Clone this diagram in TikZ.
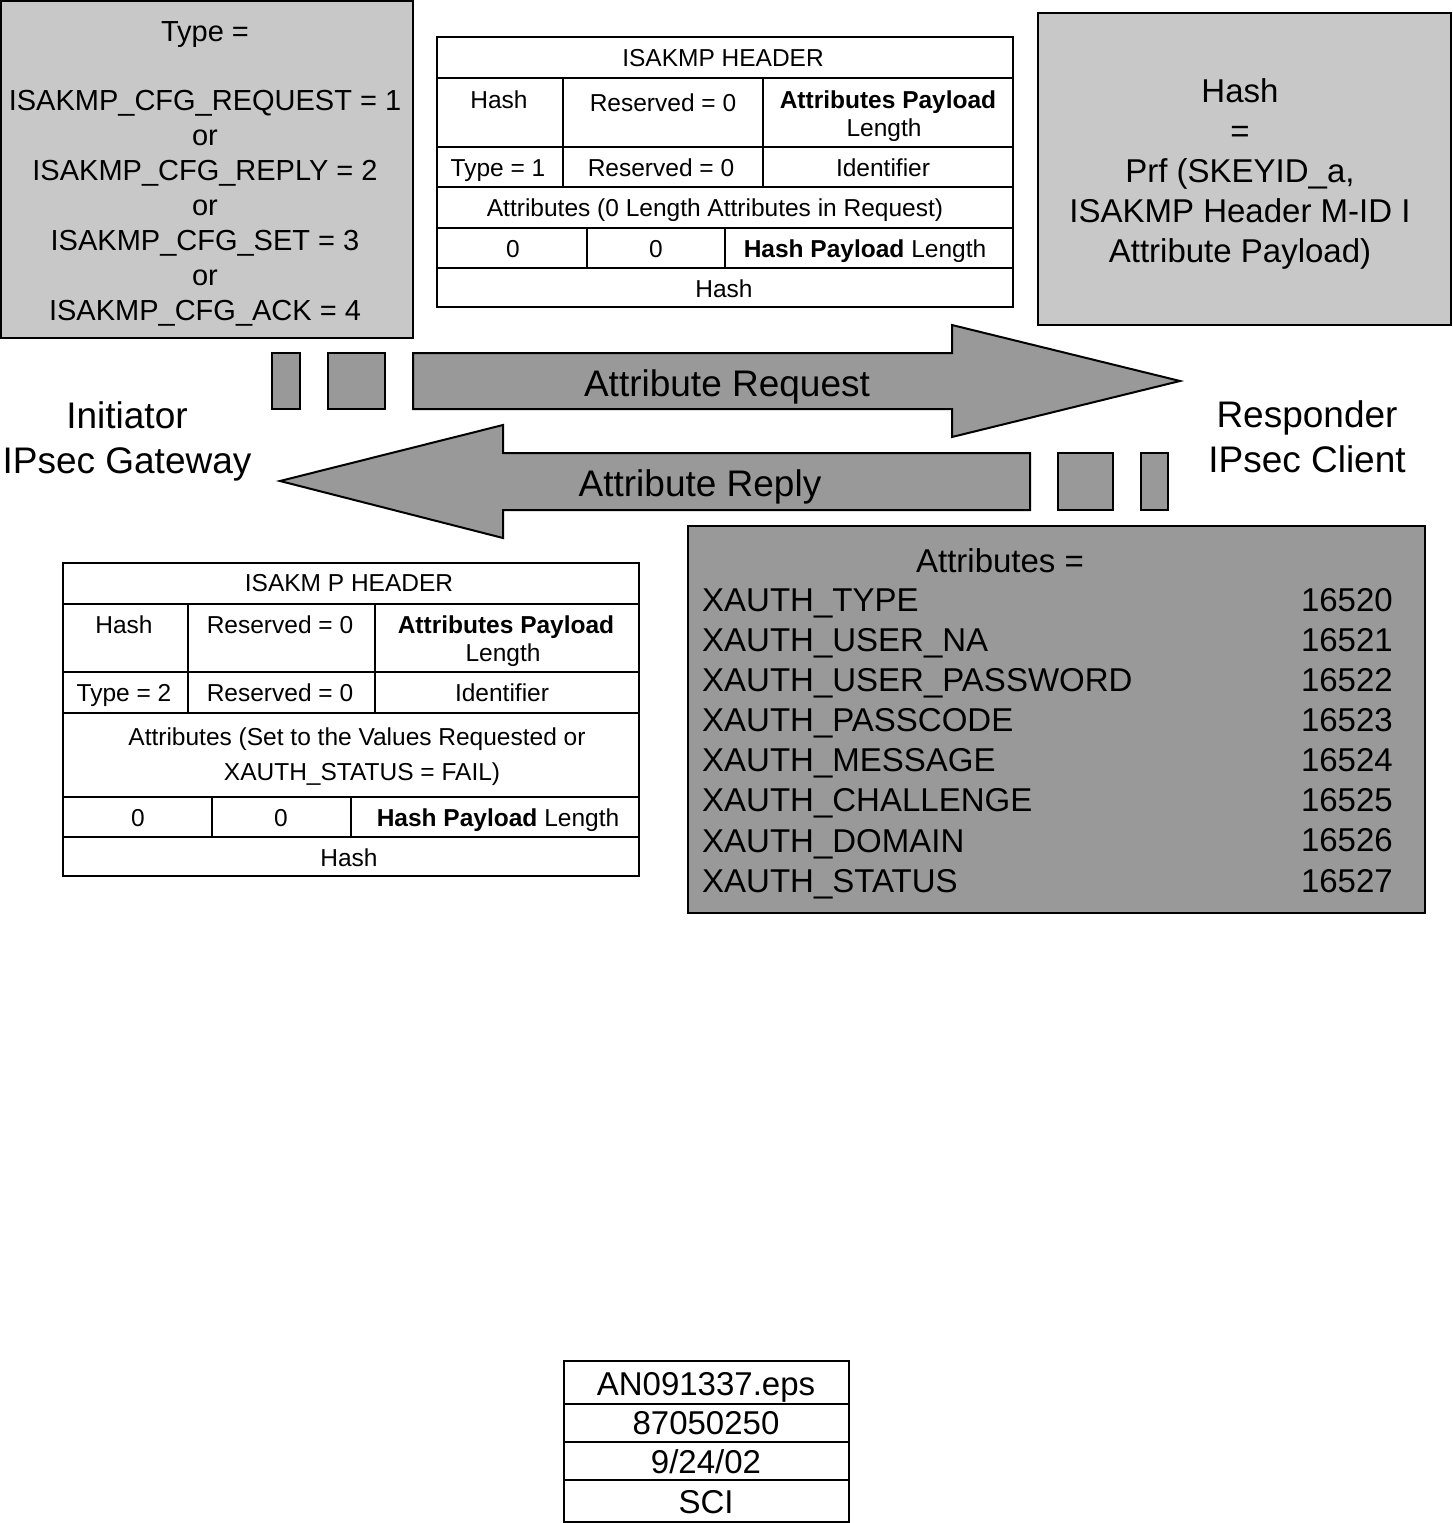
\documentclass[tikz,border=0pt]{standalone}
\usepackage{fontspec}
\setmainfont{Liberation Sans}
\definecolor{lightg}{RGB}{200,200,200}
\definecolor{midg}{RGB}{153,153,153}
\tikzset{
  lbox/.style={draw=black, line width=2pt, fill=lightg},
  gbox/.style={draw=black, line width=2pt, fill=midg},
  tbl/.style={draw=black, line width=2pt},
  tt/.style={inner sep=0pt, font=\fontsize{24.5}{29}\selectfont, text height=17.5pt, text depth=0pt},
  big/.style={inner sep=0pt, font=\fontsize{37}{45}\selectfont, text height=26.5pt, text depth=0pt},
  foot/.style={inner sep=0pt, font=\fontsize{33}{40}\selectfont, text height=23.6pt, text depth=0pt},
}
\begin{document}
\begin{tikzpicture}[x=1pt,y=-1pt]
\useasboundingbox (0,0) rectangle (1452,1523);
\fill[white] (0,0) rectangle (1452,1523);

% top-left type box
\draw[lbox] (1,1) rectangle (413,338);
\node[inner sep=0pt, align=center, font=\fontsize{29}{35}\selectfont] (typetxt) at (205,174)
 {Type =\\[34pt]ISAKMP\_CFG\_REQUEST = 1\\or\\ISAKMP\_CFG\_REPLY = 2\\or\\ISAKMP\_CFG\_SET = 3\\or\\ISAKMP\_CFG\_ACK = 4};

% top-right hash box
\draw[lbox] (1038,13) rectangle (1451,325);
\node[inner sep=0pt, align=center, font=\fontsize{33}{40.2}\selectfont] (hashtxt) at (1240,173.9)
 {Hash\\=\\Prf (SKEYID\_a,\\ISAKMP Header M-ID I\\Attribute Payload)};

% top middle table
\draw[tbl] (437,37) rectangle (1013,307);
\draw[tbl] (437,78) -- (1013,78) (437,147) -- (1013,147) (437,187) -- (1013,187)
  (437,228) -- (1013,228) (437,268) -- (1013,268);
\draw[tbl] (563,78) -- (563,187) (763,78) -- (763,187) (587,228) -- (587,268) (725,228) -- (725,268);
\node[tt] (t1h) at (723,58) {ISAKMP HEADER};
\node[tt] (t1a) at (499,100) {Hash};
\node[tt] (t1b) at (663,103) {Reserved = 0};
\node[tt] (t1c) at (888,100) {\bfseries Attributes Payload};
\node[tt] (t1d) at (884,128) {Length};
\node[tt] (t1e) at (498,168) {Type = 1};
\node[tt] (t1f) at (661,168) {Reserved = 0};
\node[tt] (t1g) at (883,168) {Identifier};
\node[tt] (t1i) at (715,208) {Attributes (0 Length Attributes in Request)};
\node[tt] (t1j) at (513,249) {0};
\node[tt] (t1k) at (656,249) {0};
\node[tt] (t1l) at (865,249) {\textbf{Hash Payload} Length};
\node[tt] (t1m) at (724,289) {Hash};

% request arrow and packets
\draw[gbox] (272,353) rectangle (300,409);
\draw[gbox] (328,353) rectangle (385,409);
\draw[gbox] (413,353) -- (952,353) -- (952,325) -- (1180,381) -- (952,437) -- (952,409) -- (413,409) -- cycle;
\node[big] (req) at (727,383) {Attribute Request};

% reply arrow and packets
\draw[gbox] (1058,453) rectangle (1113,510);
\draw[gbox] (1141,453) rectangle (1168,510);
\draw[gbox] (1030,453) -- (503,453) -- (503,425) -- (280,481) -- (503,538) -- (503,510) -- (1030,510) -- cycle;
\node[big] (rep) at (700,483) {Attribute Reply};

% endpoints
\node[inner sep=0pt, align=center, font=\fontsize{37}{45}\selectfont] (init) at (127,441.3) {Initiator\\IPsec Gateway};
\node[inner sep=0pt, align=center, font=\fontsize{37}{45}\selectfont] (resp) at (1307,436.5) {Responder\\IPsec Client};

% bottom-left table
\draw[tbl] (63,563) rectangle (639,876);
\draw[tbl] (63,604) -- (639,604) (63,672) -- (639,672) (63,713) -- (639,713)
  (63,797) -- (639,797) (63,837) -- (639,837);
\draw[tbl] (188,604) -- (188,713) (375,604) -- (375,713) (212,797) -- (212,837) (351,797) -- (351,837);
\node[tt] (t2h) at (349,583) {ISAKM P HEADER};
\node[tt] (t2a) at (124,625) {Hash};
\node[tt] (t2b) at (280,625) {Reserved = 0};
\node[tt] (t2c) at (506,625) {\bfseries Attributes Payload};
\node[tt] (t2d) at (503,653) {Length};
\node[tt] (t2e) at (124,693) {Type = 2};
\node[tt] (t2f) at (280,693) {Reserved = 0};
\node[tt] (t2g) at (502,693) {Identifier};
\node[tt] (t2i) at (357,737) {Attributes (Set to the Values Requested or};
\node[tt] (t2i2) at (362,772) {XAUTH\_STATUS = FAIL)};
\node[tt] (t2j) at (138,818) {0};
\node[tt] (t2k) at (281,818) {0};
\node[tt] (t2l) at (498,818) {\textbf{Hash Payload} Length};
\node[tt] (t2m) at (349,858) {Hash};

% attributes box
\draw[gbox] (688,526) rectangle (1425,913);
\node[foot] (attrh) at (1000,561) {Attributes =};
\node[inner sep=0pt, align=left, anchor=west, font=\fontsize{33}{40.1}\selectfont] (attrn) at (702,743.7)
 {XAUTH\_TYPE\\XAUTH\_USER\_NA\\XAUTH\_USER\_PASSWORD\\XAUTH\_PASSCODE\\XAUTH\_MESSAGE\\XAUTH\_CHALLENGE\\XAUTH\_DOMAIN\\XAUTH\_STATUS};
\node[inner sep=0pt, align=right, anchor=east, font=\fontsize{33}{40.1}\selectfont] (attrv) at (1393,740.3)
 {16520\\16521\\16522\\16523\\16524\\16525\\16526\\16527};

% footer
\draw[tbl] (564,1361) rectangle (849,1522);
\draw[tbl] (564,1404) -- (849,1404) (564,1442) -- (849,1442) (564,1480) -- (849,1480);
\node[foot] (f1) at (706,1384) {AN091337.eps};
\node[foot] (f2) at (706,1423) {87050250};
\node[foot] (f3) at (706,1462) {9/24/02};
\node[foot] (f4) at (706,1502) {SCI};
\end{tikzpicture}
\end{document}
